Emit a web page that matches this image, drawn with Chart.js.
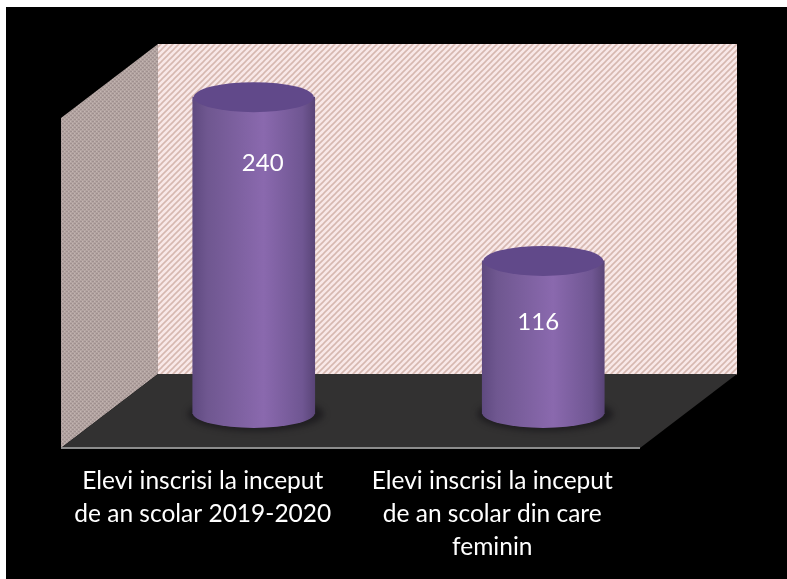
<!doctype html>
<html>
<head>
<style>
html, body { margin: 0; padding: 0; background: #fff; overflow: hidden; }
#box { position: absolute; left: 6px; top: 7px; width: 781px; height: 572px; background: #000; }
</style>
<script src="https://cdn.jsdelivr.net/npm/chart.js@4"></script>
</head>
<body>
<div id="box"><canvas id="chart"></canvas></div>
<script>
const categories = [
    ['Elevi inscrisi la inceput', 'de an scolar 2019-2020'],
    ['Elevi inscrisi la inceput', 'de an scolar din care', 'feminin']
];
const seriesValues = [240, 116];
const seriesName = 'Elevi';

// how far the back wall sits behind the front plane
const depthX = 97;
const depthY = 74;
// the cylinders stand half way on the floor
const barShiftX = 48;
const barShiftY = 34;
const ellipseY = 15;
// the value labels are not centred on the cylinders in the original
const labelShift = [[9, 66], [-5, 61]];

function makeHatch() {
    const c = document.createElement('canvas');
    c.width = 6; c.height = 6;
    const g = c.getContext('2d');
    g.fillStyle = '#f8e8e8';
    g.fillRect(0, 0, 6, 6);
    g.strokeStyle = '#d6b8b0';
    g.lineWidth = 1.6;
    g.beginPath();
    g.moveTo(-1, 7); g.lineTo(7, -1);
    g.moveTo(-1, 1); g.lineTo(1, -1);
    g.moveTo(5, 7); g.lineTo(7, 5);
    g.stroke();
    return c;
}

function makeStipple() {
    const c = document.createElement('canvas');
    c.width = 4; c.height = 4;
    const g = c.getContext('2d');
    g.fillStyle = '#b3a4a1';
    g.fillRect(0, 0, 4, 4);
    g.fillStyle = '#a09190';
    g.fillRect(0, 0, 2, 1); g.fillRect(2, 2, 2, 1);
    g.fillStyle = '#c4b6b3';
    g.fillRect(2, 0, 1, 1); g.fillRect(0, 2, 1, 1);
    return c;
}

function barGradient(ctx, left, right) {
    const gr = ctx.createLinearGradient(left, 0, right, 0);
    gr.addColorStop(0, '#5f4a80');
    gr.addColorStop(0.12, '#6f5790');
    gr.addColorStop(0.58, '#8a69ae');
    gr.addColorStop(0.9, '#6f5692');
    gr.addColorStop(1, '#5a4578');
    return gr;
}

// walls and floor
const roomPlugin = {
    id: 'room',
    beforeDatasetsDraw(chart) {
        const { ctx, chartArea: a } = chart;
        ctx.save();
        // back wall
        ctx.fillStyle = ctx.createPattern(makeHatch(), 'repeat');
        ctx.fillRect(a.left + depthX, a.top - depthY, a.width, a.height + 0.5);
        // side wall
        ctx.fillStyle = ctx.createPattern(makeStipple(), 'repeat');
        ctx.beginPath();
        ctx.moveTo(a.left, a.top);
        ctx.lineTo(a.left + depthX, a.top - depthY);
        ctx.lineTo(a.left + depthX, a.bottom - depthY);
        ctx.lineTo(a.left, a.bottom);
        ctx.closePath();
        ctx.fill();
        // floor
        ctx.fillStyle = '#323131';
        ctx.beginPath();
        ctx.moveTo(a.left, a.bottom);
        ctx.lineTo(a.left + depthX, a.bottom - depthY);
        ctx.lineTo(a.right + depthX, a.bottom - depthY);
        ctx.lineTo(a.right, a.bottom);
        ctx.closePath();
        ctx.fill();
        // front edge
        ctx.strokeStyle = '#8c8c8c';
        ctx.lineWidth = 2;
        ctx.beginPath();
        ctx.moveTo(a.left, a.bottom);
        ctx.lineTo(a.right, a.bottom);
        ctx.stroke();
        ctx.restore();
    }
};

// turns the flat bars into cylinders
const cylinderPlugin = {
    id: 'cylinder',
    beforeDatasetDraw(chart, args) {
        const { ctx } = chart;
        ctx.save();
        ctx.translate(barShiftX, -barShiftY);
        args.meta.data.forEach(bar => {
            const rx = bar.width / 2;
            const fill = barGradient(ctx, bar.x - rx, bar.x + rx);
            // options are shared between bars, each one needs its own gradient
            bar.options = Object.assign({}, bar.options, { backgroundColor: fill });
            // soft shadow on the floor
            ctx.save();
            ctx.fillStyle = 'rgba(15,12,18,0.55)';
            ctx.filter = 'blur(3px)';
            ctx.beginPath();
            ctx.ellipse(bar.x + 2, bar.base, rx + 7, ellipseY + 2, 0, 0, Math.PI * 2);
            ctx.fill();
            ctx.restore();
            // bottom cap
            ctx.fillStyle = fill;
            ctx.beginPath();
            ctx.ellipse(bar.x, bar.base - 1, rx, ellipseY, 0, 0, Math.PI);
            ctx.fill();
        });
    },
    afterDatasetDraw(chart, args) {
        const { ctx } = chart;
        args.meta.data.forEach(bar => {
            const rx = bar.width / 2;
            // rim then top face
            ctx.fillStyle = barGradient(ctx, bar.x - rx, bar.x + rx);
            ctx.beginPath();
            ctx.ellipse(bar.x, bar.y + 3, rx, ellipseY, 0, 0, Math.PI * 2);
            ctx.fill();
            ctx.fillStyle = '#61498a';
            ctx.beginPath();
            ctx.ellipse(bar.x, bar.y, rx - 1, ellipseY, 0, 0, Math.PI * 2);
            ctx.fill();
        });
        ctx.restore();
        // value labels
        ctx.save();
        ctx.fillStyle = '#fff';
        ctx.font = '24px Lato, "Open Sans", sans-serif';
        ctx.textAlign = 'center';
        ctx.textBaseline = 'middle';
        args.meta.data.forEach((bar, i) => {
            ctx.fillText(String(seriesValues[i]),
                bar.x + barShiftX + labelShift[i][0],
                bar.y - barShiftY + labelShift[i][1]);
        });
        ctx.restore();
    }
};

const canvas = document.getElementById('chart');
new Chart(canvas, {
    type: 'bar',
    data: {
        labels: categories,
        datasets: [{
            label: seriesName,
            data: seriesValues,
            barThickness: 122,
            backgroundColor: '#7f63a3'
        }]
    },
    options: {
        responsive: true,
        maintainAspectRatio: false,
        animation: false,
        layout: { padding: { left: 55, top: 111, right: 147, bottom: 0 } },
        plugins: { legend: { display: false }, tooltip: { enabled: false } },
        scales: {
            x: {
                grid: { display: false },
                border: { display: false },
                afterFit(scale) { scale.height = 131; },
                ticks: {
                    color: '#fff',
                    padding: 9,
                    labelOffset: -3,
                    maxRotation: 0,
                    autoSkip: false,
                    font: { family: 'Lato, "Open Sans", sans-serif', size: 24.5, lineHeight: 1.345 }
                }
            },
            y: {
                display: false,
                min: 0,
                max: 250
            }
        }
    },
    plugins: [roomPlugin, cylinderPlugin]
});
</script>
</body>
</html>
